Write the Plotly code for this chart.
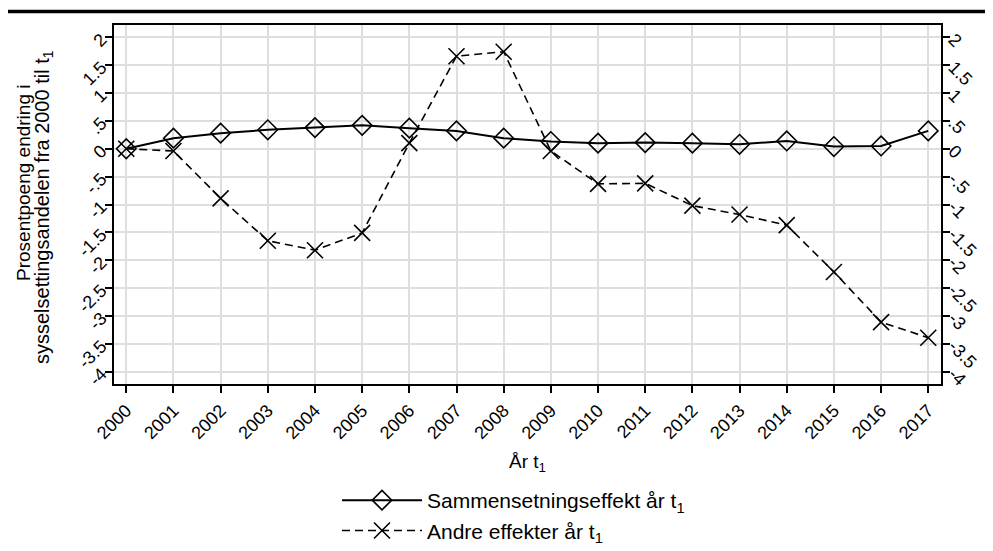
import plotly.graph_objects as go

years = list(range(2000, 2018))
sammensetning = [0.00, 0.19, 0.28, 0.34, 0.38, 0.42, 0.37, 0.32, 0.19,
                 0.13, 0.10, 0.11, 0.10, 0.08, 0.14, 0.04, 0.05, 0.32]
andre = [0.00, -0.04, -0.89, -1.65, -1.82, -1.51, 0.10, 1.66, 1.74,
         -0.04, -0.63, -0.62, -1.02, -1.18, -1.37, -2.21, -3.11, -3.39]

y_ticks = [2, 1.5, 1, 0.5, 0, -0.5, -1, -1.5, -2, -2.5, -3, -3.5, -4]
y_labels = ["2", "1.5", "1", ".5", "0", "-.5", "-1", "-1.5", "-2", "-2.5", "-3", "-3.5", "-4"]

FONT = "Liberation Sans, Arial, sans-serif"

# the page body has an 8px margin, so the figure is drawn from (8, 8)
OFF = 8
W, H = 993 - OFF, 551 - OFF
# target plot box on the page (px): x 114..941, y 25..384
M_L, M_T = 114 - OFF, 25 - OFF
M_R, M_B = 993 - 941, 0
paper_w = W - M_L - M_R
paper_h = H - M_T - M_B


def py(page_y):
    # page pixel row -> paper fraction
    return (H - M_B - (page_y - OFF)) / paper_h


def px(page_x):
    return (page_x - OFF - M_L) / paper_w


fig = go.Figure()

fig.add_trace(
    go.Scatter(
        x=years,
        y=sammensetning,
        mode="lines+markers",
        name="Sammensetningseffekt år t<sub>1</sub>",
        line=dict(color="black", width=2),
        marker=dict(symbol="diamond-open", size=15, color="black", line=dict(width=1.6)),
    )
)
fig.add_trace(
    go.Scatter(
        x=years,
        y=andre,
        mode="lines+markers",
        name="Andre effekter år t<sub>1</sub>",
        line=dict(color="black", width=1.6, dash="8px,5px"),
        marker=dict(symbol="x-thin-open", size=16, color="black", line=dict(width=1.6, color="black")),
        yaxis="y2",
    )
)

yr = [-4.22, 2.22]
axis_common = dict(
    range=yr,
    domain=[py(384), 1],
    tickvals=y_ticks,
    ticktext=y_labels,
    ticks="outside",
    ticklen=7,
    tickwidth=1.5,
    tickcolor="black",
    showline=True,
    linecolor="black",
    linewidth=2,
    tickfont=dict(size=18, color="black", family=FONT),
    zeroline=False,
    automargin=False,
)

fig.update_layout(
    width=W,
    height=H,
    plot_bgcolor="white",
    paper_bgcolor="white",
    font=dict(family=FONT, color="black", size=18),
    margin=dict(l=M_L, r=M_R, t=M_T, b=M_B, pad=0),
    showlegend=True,
    legend=dict(
        x=px(337),
        y=0,
        xanchor="left",
        yanchor="bottom",
        font=dict(size=21, color="black"),
        tracegroupgap=0,
        itemwidth=80,
    ),
    xaxis=dict(
        range=[1999.74, 2017.27],
        tickvals=years,
        tickangle=-45,
        ticks="outside",
        ticklen=7,
        tickwidth=1.5,
        tickcolor="black",
        showline=True,
        mirror=True,
        linecolor="black",
        linewidth=2,
        showgrid=True,
        gridcolor="#dedede",
        gridwidth=2,
        zeroline=False,
        automargin=False,
        tickfont=dict(size=18, color="black"),
    ),
    yaxis=dict(
        **axis_common,
        tickangle=-45,
        showgrid=True,
        gridcolor="#dedede",
        gridwidth=2,
    ),
    yaxis2=dict(
        **axis_common,
        overlaying="y",
        side="right",
        tickangle=45,
        showgrid=False,
    ),
)

# axis titles
fig.add_annotation(
    text="År t<sub>1</sub>", xref="paper", yref="paper",
    x=0.5, y=py(463), xanchor="center", yanchor="middle",
    showarrow=False, font=dict(size=19),
)
fig.add_annotation(
    text="Prosentpoeng endring i", xref="paper", yref="paper",
    x=px(23), y=py(183), xanchor="center", yanchor="middle",
    textangle=-90, showarrow=False, font=dict(size=19),
)
fig.add_annotation(
    text="sysselsettingsandelen fra 2000 til t<sub>1</sub>", xref="paper", yref="paper",
    x=px(44), y=py(207), xanchor="center", yanchor="middle",
    textangle=-90, showarrow=False, font=dict(size=20),
)

# heavy rule under the (cropped) figure heading
fig.add_shape(
    type="line", xref="paper", yref="paper",
    x0=px(OFF), x1=px(993), y0=py(11.5), y1=py(11.5),
    line=dict(color="black", width=3.5),
)

fig.write_html("out.html")
